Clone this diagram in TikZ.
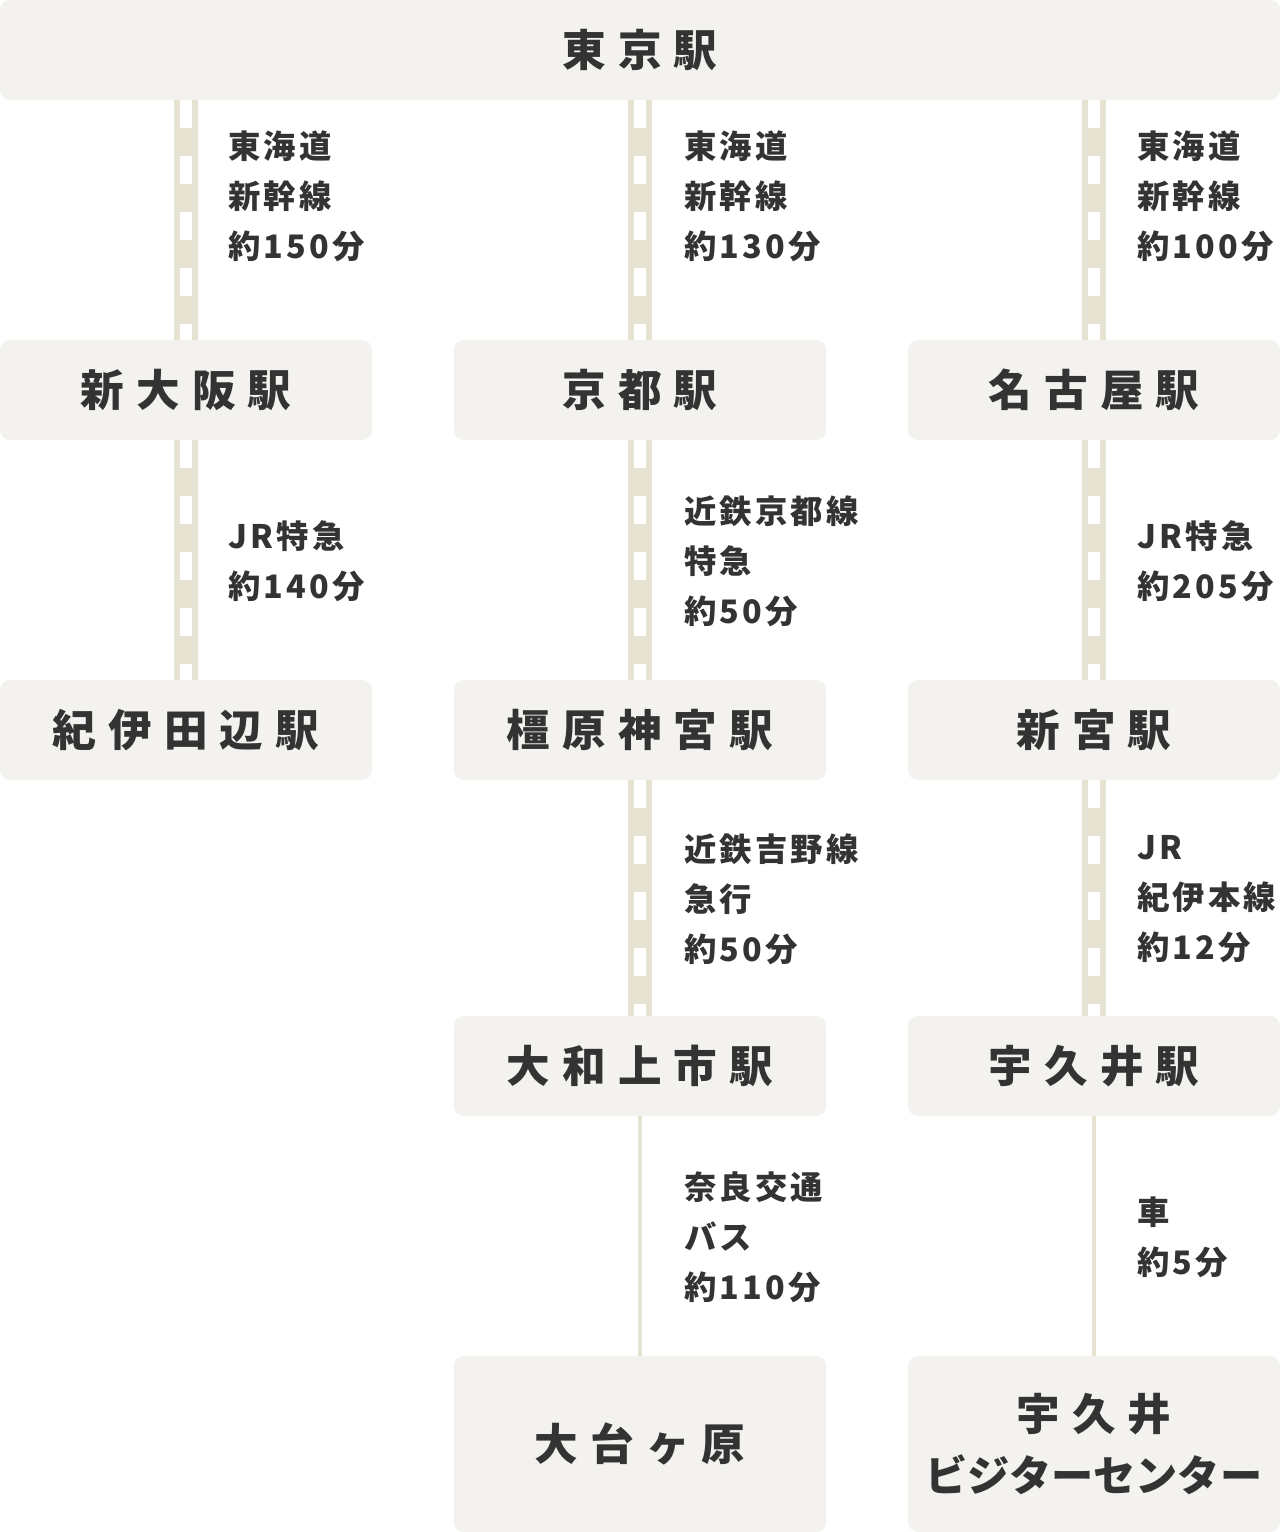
\documentclass[tikz,border=0pt]{standalone}
\usepackage{fontspec}
\setmainfont{Noto Sans CJK JP}
\newfontfamily\ekifont[LetterSpace=28]{Noto Sans CJK JP}
\newfontfamily\infofont[LetterSpace=10]{Noto Sans CJK JP}
\usepackage{xcolor}
\definecolor{fond}{HTML}{F3F2EE}
\definecolor{railc}{HTML}{E6E3D2}
\definecolor{encre}{HTML}{333333}
\usetikzlibrary{positioning}

\begin{document}
\begin{tikzpicture}[x=0.025cm,y=-0.025cm,
  eki/.style={fill=fond,rounded corners=0.25cm,minimum width=9.3cm,minimum height=2.5cm,inner sep=0,align=center,text=encre,font={\ekifont\bfseries\fontsize{31pt}{42.7pt}\selectfont}},
  info/.style={anchor=west,align=left,inner sep=0,text=encre,font={\infofont\bfseries\fontsize{23pt}{35.6pt}\selectfont}},
  voie/.style={draw=white,line width=0.3cm,dash pattern=on 0.7cm off 0.7cm,preaction={draw=railc,line width=0.6cm,solid}},
  route/.style={draw=railc,line width=0.1cm}
]
\useasboundingbox (0,0) rectangle (1280,1532);
% gares
\node[eki,minimum width=32cm] (tokyo) at (640,50) {東京駅};
\node[eki] (shinosaka) at (186,390) {新大阪駅};
\node[eki] (kyoto) at (640,390) {京都駅};
\node[eki] (nagoya) at (1094,390) {名古屋駅};
\node[eki] (kiitanabe) at (186,730) {紀伊田辺駅};
\node[eki] (kashihara) at (640,730) {橿原神宮駅};
\node[eki] (shingu) at (1094,730) {新宮駅};
\node[eki] (yamato) at (640,1066) {大和上市駅};
\node[eki] (ukui) at (1094,1066) {宇久井駅};
\node[eki,minimum height=4.4cm] (odai) at (640,1444) {大台ヶ原};
\node[eki,minimum height=4.4cm] (ukuivc) at (1094,1444) {宇久井\\{\bfseries\fontspec{Noto Sans CJK JP}\fontsize{30pt}{42.7pt}\selectfont ビジターセンター}};
% lignes
\draw[voie] (tokyo.south -| shinosaka.north) -- (shinosaka.north);
\draw[voie] (tokyo.south -| kyoto.north) -- (kyoto.north);
\draw[voie] (tokyo.south -| nagoya.north) -- (nagoya.north);
\draw[voie] (shinosaka.south) -- (kiitanabe.north);
\draw[voie] (kyoto.south) -- (kashihara.north);
\draw[voie] (nagoya.south) -- (shingu.north);
\draw[voie] (kashihara.south) -- (yamato.north);
\draw[voie] (shingu.south) -- (ukui.north);
\draw[route] (yamato.south) -- (odai.north);
\draw[route] (ukui.south) -- (ukuivc.north);
% trajets
\node[info] (t1) at (228,196) {東海道\\新幹線\\約150分};
\node[info] (t2) at (684,196) {東海道\\新幹線\\約130分};
\node[info] (t3) at (1137,196) {東海道\\新幹線\\約100分};
\node[info] (t4) at (228,561) {JR特急\\約140分};
\node[info] (t5) at (684,561) {近鉄京都線\\特急\\約50分};
\node[info] (t6) at (1137,561) {JR特急\\約205分};
\node[info] (t7) at (684,899) {近鉄吉野線\\急行\\約50分};
\node[info] (t8) at (1137,899) {JR\\紀伊本線\\約12分};
\node[info] (t9) at (684,1237) {奈良交通\\バス\\約110分};
\node[info] (t10) at (1137,1237) {車\\約5分};
\end{tikzpicture}
\end{document}
